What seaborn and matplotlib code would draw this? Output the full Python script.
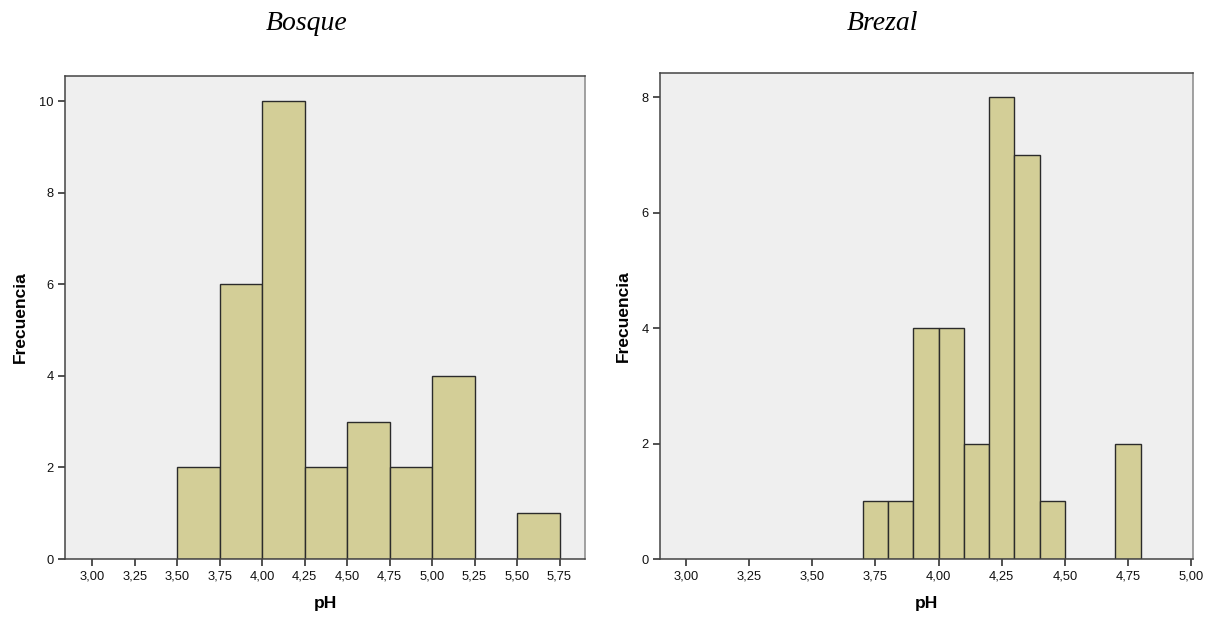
import numpy as np
import pandas as pd
import matplotlib
matplotlib.use("Agg")
import matplotlib.pyplot as plt
import seaborn as sns

# Bosque: pH bins of 0.25
bosque_edges = [3.50, 3.75, 4.00, 4.25, 4.50, 4.75, 5.00, 5.25, 5.50, 5.75]
bosque_counts = [2, 6, 10, 2, 3, 2, 4, 0, 1]
# Brezal: pH bins of 0.10
brezal_edges = [3.7, 3.8, 3.9, 4.0, 4.1, 4.2, 4.3, 4.4, 4.5, 4.6, 4.7, 4.8]
brezal_counts = [1, 1, 4, 4, 2, 8, 7, 1, 0, 0, 2]

bosque_xticks = [3.00, 3.25, 3.50, 3.75, 4.00, 4.25, 4.50, 4.75, 5.00, 5.25, 5.50, 5.75]
brezal_xticks = [3.00, 3.25, 3.50, 3.75, 4.00, 4.25, 4.50, 4.75, 5.00]
bosque_yticks = [0, 2, 4, 6, 8, 10]
brezal_yticks = [0, 2, 4, 6, 8]

sns.set_style("white")
plt.rcParams['font.family'] = ['Liberation Sans', 'DejaVu Sans']

W, H = 1206, 622
fig = plt.figure(figsize=(W / 100, H / 100), dpi=100)

barcol = "#D3CE97"
bgcol = "#EFEFEF"


def panel(rect, edges, counts, xticks, yticks, xlim, ylim, titulo, tx):
    ax = fig.add_axes([rect[0] / W, 1 - rect[3] / H, (rect[2] - rect[0]) / W,
                       (rect[3] - rect[1]) / H])
    centros = [(edges[i] + edges[i + 1]) / 2 for i in range(len(counts))]
    df = pd.DataFrame({"pH": centros, "n": counts})
    sns.histplot(data=df, x="pH", weights="n", bins=edges, ax=ax,
                 color=barcol, edgecolor="#2b2b2b", linewidth=1.0, alpha=1)
    ax.set_facecolor(bgcol)
    ax.set_xlim(*xlim)
    ax.set_ylim(*ylim)
    ax.set_xticks(xticks)
    ax.set_xticklabels([("%.2f" % v).replace(".", ",") for v in xticks])
    ax.set_yticks(yticks)
    ax.tick_params(axis="both", direction="out", length=5, width=1.2,
                   labelsize=9.3, color="#333333", labelcolor="#111111",
                   bottom=True, left=True, pad=3)
    for s in ax.spines.values():
        s.set_color("#444444")
        s.set_linewidth(1.1)
    ax.spines["right"].set_color("#888888")
    ax.set_xlabel("pH", fontsize=12.5, fontweight="bold", labelpad=10,
                  color="black")
    ax.set_ylabel("Frecuencia", fontsize=12.5, fontweight="bold", labelpad=8,
                  color="black")
    fig.text(tx / W, 1 - 24 / H, titulo, fontsize=20, style="italic",
             family="Liberation Serif", ha="center", va="center", color="black")
    return ax


panel((65, 76, 585, 559), bosque_edges, bosque_counts, bosque_xticks,
      bosque_yticks, (2.84, 5.90), (0, 10.55), "Bosque", 307)
panel((660, 73, 1193, 559), brezal_edges, brezal_counts, brezal_xticks,
      brezal_yticks, (2.897, 5.007), (0, 8.42), "Brezal", 882)

fig.savefig("out.png", dpi=100, facecolor="white")
